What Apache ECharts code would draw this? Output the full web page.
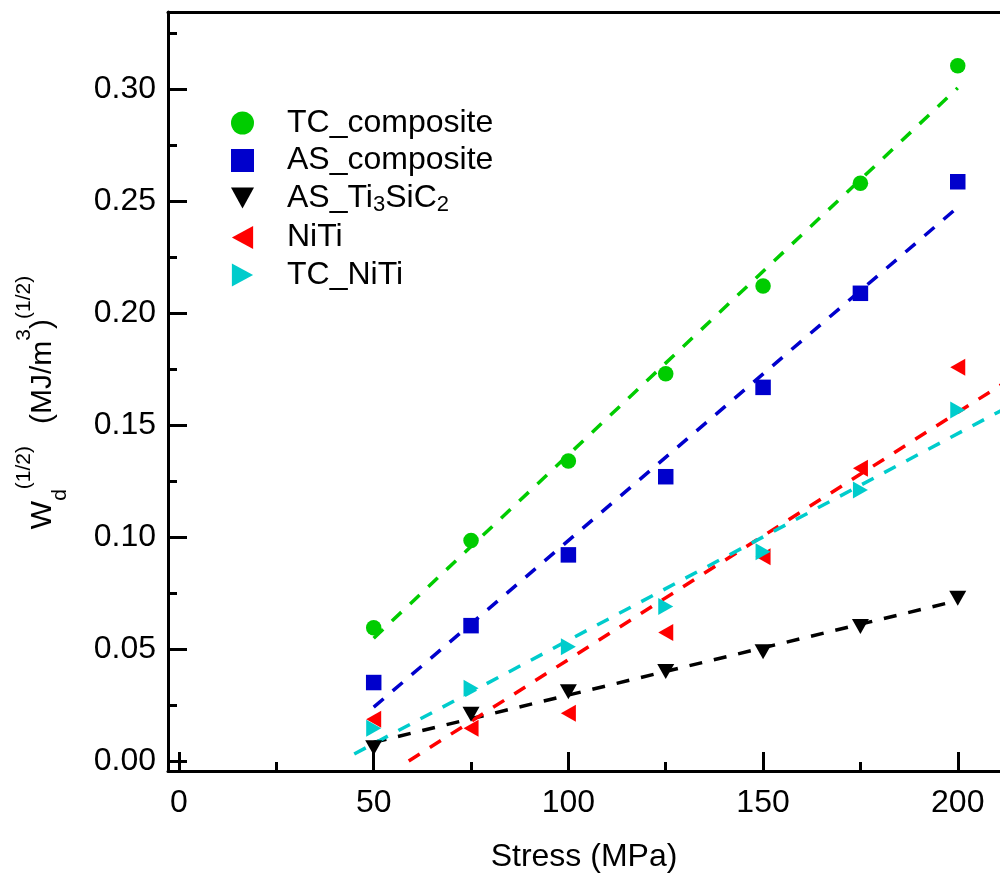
<!DOCTYPE html>
<html>
<head>
<meta charset="utf-8">
<script src="https://cdn.jsdelivr.net/npm/echarts@6.0.0/dist/echarts.min.js"></script>
<style>
html,body{margin:0;padding:0;background:#fff;}
#chart{width:1000px;height:879px;}
</style>
</head>
<body>
<div id="chart"></div>
<script>
// ---- data ----
const stress = [50, 75, 100, 125, 150, 175, 200];
const tcComposite = [0.0595, 0.0984, 0.1339, 0.1729, 0.2121, 0.2579, 0.3104];
const asComposite = [0.0350, 0.0604, 0.0920, 0.1269, 0.1668, 0.2088, 0.2586];
const asTi3SiC2   = [0.0059, 0.0208, 0.0309, 0.0399, 0.0488, 0.0600, 0.0726];
const niTi        = [0.0186, 0.0146, 0.0213, 0.0573, 0.0912, 0.1307, 0.1758];
const tcNiTi      = [0.0146, 0.0324, 0.0510, 0.0689, 0.0934, 0.1210, 0.1567];

// dashed fit lines (end points)
const fitTcComposite = [[50, 0.0548], [200, 0.3005]];
const fitAsComposite = [[50, 0.0240], [200, 0.2472]];
const fitAsTi3SiC2   = [[50, 0.0083], [200, 0.0716]];
const fitNiTi        = [[59, 0.0000], [215, 0.1722]];
const fitTcNiTi      = [[45, 0.0031], [215, 0.1600]];

const seriesNames = ['TC_composite', 'AS_composite', 'AS_Ti3SiC2', 'NiTi', 'TC_NiTi'];

// ticks
const xMajorTicks = [0, 50, 100, 150, 200];
const xMinorTicks = [25, 75, 125, 175];
const yMajorTicks = [0, 0.05, 0.10, 0.15, 0.20, 0.25, 0.30];
const yMinorTicks = [0.025, 0.075, 0.125, 0.175, 0.225, 0.275, 0.325];

// ---- styling ----
const FONT = 'Liberation Sans, Arial, Helvetica, sans-serif';
const X_MIN = -2.83, X_MAX = 210.85;
const Y_MIN = -0.0045, Y_MAX = 0.3344;
const colors = ['#00CC00', '#0000CC', '#000000', '#FF0000', '#00CCCC'];
const symbols = ['circle', 'rect', 'triangle', 'triangle', 'triangle'];
const rotates = [0, 0, 180, 90, -90];
const sizes = [15.5, 15.5, [17, 15], [17, 15], [17, 15]];
const legendIcons = [
  'circle',
  'rect',
  'path://M0,0 L26,0 L13,24 Z',
  'path://M24,0 L24,26 L0,13 Z',
  'path://M0,0 L24,13 L0,26 Z'
];
const values = [tcComposite, asComposite, asTi3SiC2, niTi, tcNiTi];
const fits = [fitTcComposite, fitAsComposite, fitAsTi3SiC2, fitNiTi, fitTcNiTi];

const chart = echarts.init(document.getElementById('chart'), null, {renderer: 'canvas'});

const series = [];
fits.forEach((f, i) => {
  series.push({
    type: 'line',
    name: seriesNames[i] + '_fit',
    data: f,
    showSymbol: false,
    symbol: 'none',
    clip: true,
    z: 2,
    silent: true,
    lineStyle: {color: colors[i], width: 3.5, type: [13, 12]}
  });
});
values.forEach((v, i) => {
  series.push({
    type: 'scatter',
    name: seriesNames[i],
    data: stress.map((x, k) => [x, v[k]]),
    symbol: symbols[i],
    symbolRotate: rotates[i],
    symbolSize: sizes[i],
    z: 3,
    itemStyle: {color: colors[i], opacity: 1}
  });
});

const axisLine = {show: true, onZero: false, lineStyle: {color: '#000', width: 3}};
const baseX = {type: 'value', min: X_MIN, max: X_MAX, splitLine: {show: false}};
const baseY = {type: 'value', min: Y_MIN, max: Y_MAX, splitLine: {show: false}};

const option = {
  animation: false,
  backgroundColor: '#fff',
  grid: {left: 168, top: 12, right: 0, bottom: 108, containLabel: false},
  legend: {
    orient: 'vertical',
    left: 226,
    top: 102,
    itemWidth: 23,
    itemHeight: 23,
    itemGap: 5.5,
    data: seriesNames.map((n, i) => ({name: n, icon: legendIcons[i], itemStyle: {color: colors[i]}})),
    selectedMode: false,
    formatter: function (name) {
      if (name === 'AS_Ti3SiC2') {
        return '{s|}{m|AS_Ti}{sub|3}{m|SiC}{sub|2}';
      }
      return '{s|}{m|' + name + '}';
    },
    textStyle: {
      color: '#000',
      fontFamily: FONT,
      fontSize: 32,
      rich: {
        s: {width: 28, lineHeight: 36},
        m: {fontSize: 32, fontFamily: FONT, color: '#000', lineHeight: 36, verticalAlign: 'middle'},
        sub: {fontSize: 22, fontFamily: FONT, color: '#000', lineHeight: 12, verticalAlign: 'bottom'}
      }
    }
  },
  xAxis: [
    Object.assign({}, baseX, {
      position: 'bottom',
      axisLine: axisLine,
      axisTick: {show: true, inside: true, length: 19, lineStyle: {color: '#000', width: 3}, customValues: xMajorTicks},
      axisLabel: {show: true, margin: 16, fontSize: 32, fontFamily: FONT, color: '#000', customValues: xMajorTicks},
      name: 'Stress (MPa)',
      nameLocation: 'middle',
      nameGap: 70,
      nameTextStyle: {fontSize: 32, fontFamily: FONT, color: '#000'}
    }),
    Object.assign({}, baseX, {
      position: 'bottom',
      axisLine: {show: false, onZero: false},
      axisTick: {show: true, inside: true, length: 9, lineStyle: {color: '#000', width: 3}, customValues: xMinorTicks},
      axisLabel: {show: false}
    }),
    Object.assign({}, baseX, {
      position: 'top',
      axisLine: axisLine,
      axisTick: {show: false},
      axisLabel: {show: false}
    })
  ],
  yAxis: [
    Object.assign({}, baseY, {
      position: 'left',
      axisLine: axisLine,
      axisTick: {show: true, inside: true, length: 19, lineStyle: {color: '#000', width: 3}, customValues: yMajorTicks},
      axisLabel: {
        show: true, margin: 12, fontSize: 32, fontFamily: FONT, color: '#000',
        customValues: yMajorTicks,
        formatter: v => v.toFixed(2)
      },
      name: '{m|W}{sub|d}{sup|(1/2)}{sp|}{m|(MJ/m}{sup|3}{m|)}{sup|(1/2)}{end|}',
      nameLocation: 'middle',
      nameRotate: 90,
      nameGap: 97,
      nameTextStyle: {
        fontSize: 30, fontFamily: FONT, color: '#000',
        rich: {
          m: {fontSize: 30, fontFamily: FONT, color: '#000', lineHeight: 57, verticalAlign: 'middle'},
          sup: {fontSize: 21, fontFamily: FONT, color: '#000', lineHeight: 20, verticalAlign: 'top'},
          sub: {fontSize: 21, fontFamily: FONT, color: '#000', lineHeight: 33, verticalAlign: 'bottom'},
          sp: {width: 22, lineHeight: 57},
          end: {width: 22, lineHeight: 57}
        }
      }
    }),
    Object.assign({}, baseY, {
      position: 'left',
      axisLine: {show: false, onZero: false},
      axisTick: {show: true, inside: true, length: 9, lineStyle: {color: '#000', width: 3}, customValues: yMinorTicks},
      axisLabel: {show: false}
    })
  ],
  series: series
};
chart.setOption(option);
</script>
</body>
</html>
